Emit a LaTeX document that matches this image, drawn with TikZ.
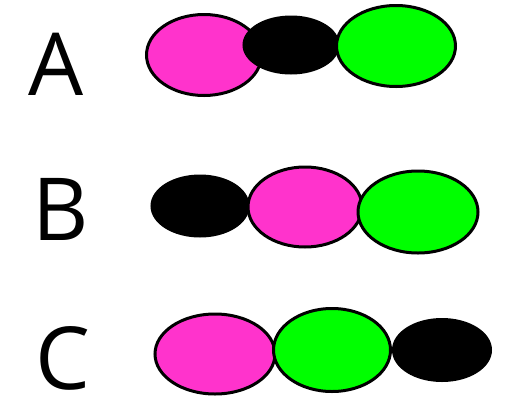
\documentclass[tikz,border=0pt]{standalone}
\usepackage{fontspec}
\setmainfont{Open Sans}
\usetikzlibrary{shapes.geometric}
\definecolor{magentafill}{RGB}{255,51,204}
\definecolor{greenfill}{RGB}{0,255,0}

\begin{document}
\begin{tikzpicture}[x=1pt, y=-1pt,
    blob/.style={ellipse, draw=black, line width=3pt, inner sep=0pt},
    pinkblob/.style={blob, fill=magentafill},
    greenblob/.style={blob, fill=greenfill},
    blackblob/.style={blob, fill=black},
    rowlabel/.style={font=\fontsize{87}{90}\selectfont, inner sep=0pt}]
          \useasboundingbox (0, 0) rectangle (506, 397);

          % row A
          \node (labA) at (56, 64) [rowlabel] {A};
          \node (pinkA) at (204, 55) [pinkblob, minimum width=115pt, minimum height=81pt] {};
          \node (blackA) at (291, 45) [blackblob, minimum width=94pt, minimum height=56pt] {};
          \node (greenA) at (396, 46) [greenblob, minimum width=119pt, minimum height=81pt] {};

          % row B
          \node (labB) at (61, 209) [rowlabel] {B};
          \node (blackB) at (200, 206) [blackblob, minimum width=96pt, minimum height=60pt] {};
          \node (pinkB) at (305, 207) [pinkblob, minimum width=114pt, minimum height=80pt] {};
          \node (greenB) at (418, 212) [greenblob, minimum width=120pt, minimum height=82pt] {};

          % row C
          \node (labC) at (63, 358) [rowlabel] {C};
          \node (pinkC) at (215, 354) [pinkblob, minimum width=120pt, minimum height=80pt] {};
          \node (greenC) at (332, 350) [greenblob, minimum width=117pt, minimum height=83pt] {};
          \node (blackC) at (442, 350) [blackblob, minimum width=97pt, minimum height=61pt] {};
        \end{tikzpicture}
\end{document}
